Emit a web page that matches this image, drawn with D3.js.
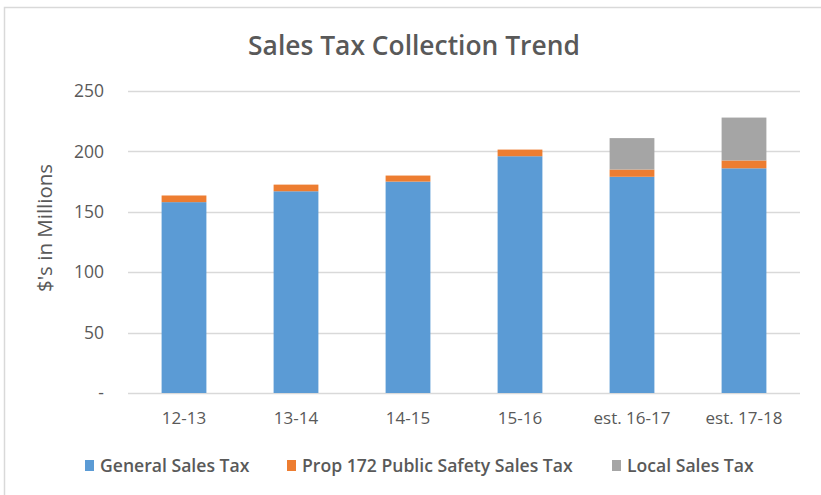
<!DOCTYPE html>
<html>
<head>
<meta charset="utf-8">
<script src="https://cdn.jsdelivr.net/npm/d3@7"></script>
<style>
  html, body { margin: 0; padding: 0; background: #fff; }
  svg { display: block; font-family: "Open Sans", Lato, sans-serif; }
</style>
</head>
<body>
<svg id="chart" width="821" height="495"></svg>
<script>
// Fiscal years and revenue ($ millions) by sales tax source
const years = ["12-13", "13-14", "14-15", "15-16", "est. 16-17", "est. 17-18"];
const generalSalesTax = [158, 167, 175, 196, 179, 186];
const prop172Tax = [5.5, 5.5, 5, 5.5, 6, 6.5];
const localSalesTax = [0, 0, 0, 0, 26, 35.5];
const yTicks = [0, 50, 100, 150, 200, 250];
const seriesNames = ["General Sales Tax", "Prop 172 Public Safety Sales Tax", "Local Sales Tax"];
const seriesColors = ["#5B9BD5", "#ED7D31", "#A5A5A5"];

const svg = d3.select("#chart");
const W = 821, H = 495;
const plot = { left: 128, right: 800, top: 91, bottom: 393 };
const textColor = "#595959";

// chart frame
svg.append("rect").attr("x", 4.5).attr("y", 7.5).attr("width", W + 10).attr("height", H - 14 + 10)
  .attr("fill", "#fff").attr("stroke", "#D9D9D9").attr("stroke-width", 1.5);

const rows = years.map((y, i) => ({
  year: y,
  [seriesNames[0]]: generalSalesTax[i],
  [seriesNames[1]]: prop172Tax[i],
  [seriesNames[2]]: localSalesTax[i]
}));
const stacked = d3.stack().keys(seriesNames)(rows);

const x = d3.scaleBand().domain(years).range([plot.left, plot.right]).paddingInner(0.6).paddingOuter(0.3);
const y = d3.scaleLinear().domain([0, 250]).range([plot.bottom, plot.top]);

// gridlines
svg.append("g").selectAll("line").data(yTicks).join("line")
  .attr("x1", plot.left).attr("x2", plot.right)
  .attr("y1", d => Math.round(y(d)) + 0.5).attr("y2", d => Math.round(y(d)) + 0.5)
  .attr("stroke", "#D9D9D9").attr("stroke-width", 1.5);

// y axis labels
const yAxis = d3.axisLeft(y).tickValues(yTicks).tickSize(0).tickPadding(0)
  .tickFormat(d => d === 0 ? "-" : d3.format("d")(d));
svg.append("g").attr("transform", "translate(104,0)").call(yAxis)
  .call(g => g.select(".domain").remove())
  .call(g => g.selectAll("text").attr("fill", textColor).style("font-size", "17.5px")
    .style("font-family", "'Open Sans', Lato, sans-serif"));

// stacked bars
svg.append("g").selectAll("g").data(stacked).join("g")
  .attr("fill", (d, i) => seriesColors[i])
  .selectAll("rect").data(d => d).join("rect")
  .attr("x", d => x(d.data.year))
  .attr("width", x.bandwidth())
  .attr("y", d => y(d[1]))
  .attr("height", d => y(d[0]) - y(d[1]));

// x axis labels
const xAxis = d3.axisBottom(x).tickSize(0).tickPadding(0);
svg.append("g").attr("transform", `translate(0,${plot.bottom + 19})`).call(xAxis)
  .call(g => g.select(".domain").remove())
  .call(g => g.selectAll("text").attr("fill", textColor).style("font-size", "17px")
    .style("font-family", "'Open Sans', Lato, sans-serif"));

// title
svg.append("text").attr("x", 414).attr("y", 55).attr("text-anchor", "middle")
  .attr("fill", textColor).style("font-size", "26.4px").style("font-weight", "600")
  .text("Sales Tax Collection Trend");

// y axis title
svg.append("text").attr("transform", "translate(52,228) rotate(-90)").attr("text-anchor", "middle")
  .attr("fill", textColor).style("font-size", "20.5px")
  .text("$'s in Millions");

// legend
const legendX = [85, 287, 612];
const legend = svg.append("g").selectAll("g").data(seriesNames).join("g")
  .attr("transform", (d, i) => `translate(${legendX[i]},466)`);
legend.append("rect").attr("x", 0).attr("y", -6).attr("width", 9).attr("height", 11)
  .attr("fill", (d, i) => seriesColors[i]);
legend.append("text").attr("x", 15).attr("y", 6).attr("fill", textColor)
  .style("font-size", "17.6px").style("font-weight", "600").text(d => d);
</script>
</body>
</html>
